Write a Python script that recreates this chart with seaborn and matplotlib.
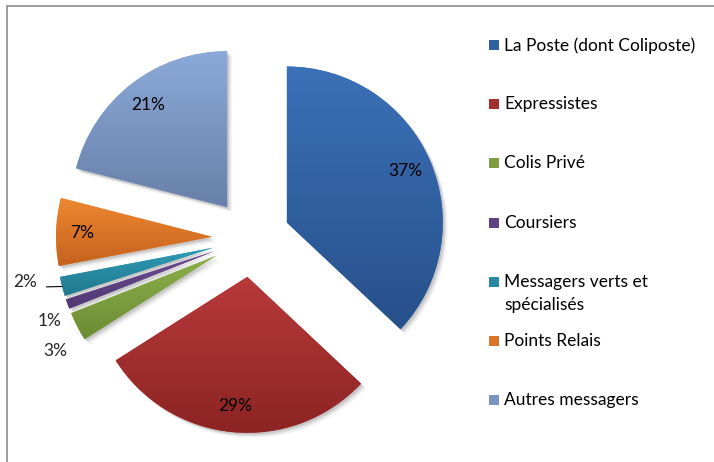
import numpy as np
import matplotlib
matplotlib.use("Agg")
import matplotlib.pyplot as plt
import seaborn as sns
from matplotlib.colors import LinearSegmentedColormap
from matplotlib.patches import Rectangle, Wedge

# ---- data ----
categories = ["La Poste (dont Coliposte)", "Expressistes", "Colis Privé", "Coursiers",
              "Messagers verts et\nspécialisés", "Points Relais", "Autres messagers"]
shares = [37, 29, 3, 1, 2, 7, 21]
pct_labels = ["37%", "29%", "3%", "1%", "2%", "7%", "21%"]
top_colors = ["#3B71B8", "#B9393A", "#8DB14B", "#6C4C94", "#2F9CB6", "#EF8831", "#8BA9D9"]
bot_colors = ["#27508A", "#8B2423", "#6B8C33", "#523873", "#22788E", "#C5621D", "#6880A9"]

sns.set_theme(style="white")
plt.rcParams['font.family'] = ['Lato', 'DejaVu Sans']
sns.color_palette(top_colors)

W, H = 714, 462
fig = plt.figure(figsize=(W / 100, H / 100), dpi=100)

# frame around chart area
fig.add_artist(Rectangle((7 / W, -0.1), 1.2, (H - 6) / H + 0.1, transform=fig.transFigure,
                         fill=False, edgecolor="#8c8c8c", linewidth=1.2))

# pie axes: centre (251, 238) px, radius 156 px
cx, cy, R = 251, 238, 156
half = 1.62
ax = fig.add_axes([(cx - half * R) / W, (H - cy - half * R) / H,
                   2 * half * R / W, 2 * half * R / H])

explode = [0.25] * len(shares)
wedges, texts = ax.pie(shares, startangle=90, counterclock=False, explode=explode,
                       colors=top_colors, radius=1.0,
                       wedgeprops=dict(linewidth=0))

# soft shadow
for w in wedges:
    for k, a in [(0.03, 0.06), (0.02, 0.08), (0.012, 0.10)]:
        sh = Wedge((w.center[0] + k, w.center[1] - k), w.r, w.theta1, w.theta2,
                   facecolor="black", alpha=a, linewidth=0, zorder=0.5)
        ax.add_patch(sh)

# vertical gradients inside each wedge
for w, c1, c2 in zip(wedges, top_colors, bot_colors):
    w.set_zorder(1)
    verts = w.get_patch_transform().transform(w.get_path().vertices)
    x0, x1 = verts[:, 0].min(), verts[:, 0].max()
    y0, y1 = verts[:, 1].min(), verts[:, 1].max()
    cmap = LinearSegmentedColormap.from_list("g", [c2, c1])
    grad = np.linspace(0, 1, 256).reshape(-1, 1)
    im = ax.imshow(grad, cmap=cmap, extent=[x0, x1, y0, y1], origin="lower",
                   aspect="auto", zorder=2, interpolation="bilinear")
    im.set_clip_path(w)

ax.set_xlim(-half, half)
ax.set_ylim(-half, half)
ax.set_aspect("equal")
ax.axis("off")

# percentage labels
fs = 12.5
outside_dist = {"3%": 1.2, "1%": 1.15, "2%": 1.22}
outside_nudge = {"3%": 3.7, "1%": 3.2, "2%": -3.0}
for i, (w, lab) in enumerate(zip(wedges, pct_labels)):
    mid = np.deg2rad((w.theta1 + w.theta2) / 2)
    ox, oy = w.center
    if shares[i] >= 5:
        d = 0.83
        ax.text(ox + d * np.cos(mid), oy + d * np.sin(mid), lab, ha="center", va="center",
                fontsize=fs, color="black", zorder=5)
    else:
        d = outside_dist[lab]
        a = mid + np.deg2rad(outside_nudge[lab])
        tx, ty = ox + d * np.cos(a), oy + d * np.sin(a)
        if lab == "2%":
            px, py = ox + np.cos(mid), oy + np.sin(mid)
            ax.annotate(lab, xy=(px, py), xytext=(tx + 0.07, py - 0.005), ha="right",
                        va="baseline", fontsize=fs, zorder=5, annotation_clip=False,
                        arrowprops=dict(arrowstyle="-", color="black", lw=0.8,
                                        shrinkA=4, shrinkB=0, relpos=(1.0, 0.2)))
        else:
            ax.text(tx, ty, lab, ha="center", va="center", fontsize=fs, zorder=5,
                    clip_on=False)

# legend (manual layout, Excel-like)
ly0, lstep = 45, 59.2
for i, (cat, col) in enumerate(zip(categories, top_colors)):
    y = ly0 + i * lstep
    cmid = LinearSegmentedColormap.from_list("m", [col, bot_colors[i]])(0.5)
    fig.add_artist(Rectangle((489 / W, (H - y - 5) / H), 10 / W, 10 / H,
                             transform=fig.transFigure, facecolor=cmid,
                             edgecolor="none"))
    fig.text(504 / W, (H - y + 8) / H, cat, ha="left", va="top", fontsize=fs,
             color="black", linespacing=1.55)

fig.savefig("out.png", dpi=100)
